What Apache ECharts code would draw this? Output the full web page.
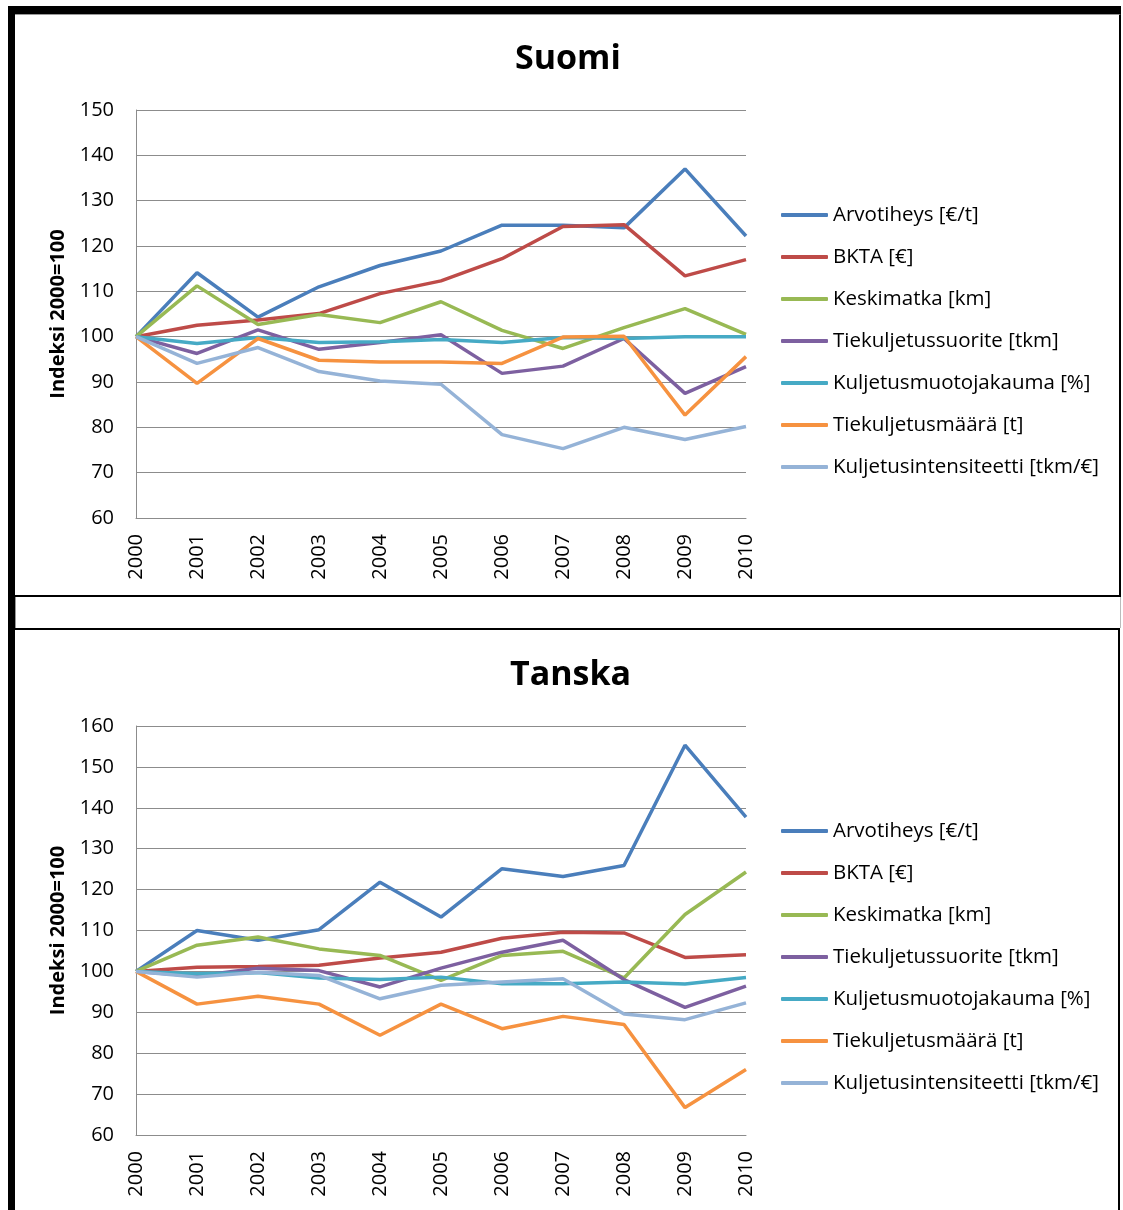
<!DOCTYPE html>
<html>
<head>
<meta charset="utf-8">
<script src="https://cdn.jsdelivr.net/npm/echarts@6/dist/echarts.min.js"></script>
<style>
  html, body { margin: 0; padding: 0; background: #fff; }
  body { width: 1123px; height: 1210px; position: relative; overflow: hidden; }
  .bar { position: absolute; background: #000; }
  .frame { position: absolute; box-sizing: border-box; border: 0 solid #000; }
  .chart { position: absolute; left: 0; width: 1123px; }
</style>
</head>
<body>
<!-- document frames -->
<div class="bar" style="left:8px;top:6px;width:1113px;height:8px"></div>
<div class="bar" style="left:8px;top:6px;width:7px;height:1204px"></div>
<div class="frame" style="left:15px;top:14px;width:1106px;height:583px;border-right-width:2px;border-bottom-width:2px;border-top:1px solid #999"></div>
<div class="frame" style="left:15px;top:597px;width:1106px;height:31px;border-left:1px solid #999;border-right:1px solid #bbb"></div>
<div class="frame" style="left:15px;top:628px;width:1105px;height:600px;border-top-width:2px;border-right-width:2px"></div>

<div id="chartSuomi" class="chart" style="top:0;height:600px"></div>
<div id="chartTanska" class="chart" style="top:616px;height:594px"></div>

<script>
const years = ['2000', '2001', '2002', '2003', '2004', '2005', '2006', '2007', '2008', '2009', '2010']
const seriesNames = [
  'Arvotiheys [€/t]',
  'BKTA [€]',
  'Keskimatka [km]',
  'Tiekuljetussuorite [tkm]',
  'Kuljetusmuotojakauma [%]',
  'Tiekuljetusmäärä [t]',
  'Kuljetusintensiteetti [tkm/€]'
]
const colors = ['#4A7EBB', '#BE4B48', '#98B954', '#7D60A0', '#46AAC5', '#F69240', '#95B3D7']

// Suomi
const fiArvotiheys = [100, 114.1, 104.3, 111.0, 115.7, 118.9, 124.6, 124.6, 124.0, 137.0, 122.2]
const fiBkta = [100, 102.5, 103.7, 105.1, 109.5, 112.3, 117.2, 124.3, 124.7, 113.4, 117.0]
const fiKeskimatka = [100, 111.2, 102.7, 104.9, 103.1, 107.7, 101.4, 97.4, 102.0, 106.2, 100.5]
const fiSuorite = [100, 96.3, 101.5, 97.2, 98.7, 100.4, 91.9, 93.5, 99.6, 87.5, 93.4]
const fiJakauma = [100, 98.5, 99.8, 98.7, 98.9, 99.4, 98.7, 99.8, 99.6, 100, 100]
const fiMaara = [100, 89.7, 99.6, 94.8, 94.4, 94.4, 94.1, 99.9, 100.1, 82.7, 95.6]
const fiIntensiteetti = [100, 94.1, 97.6, 92.3, 90.2, 89.5, 78.4, 75.3, 80.0, 77.3, 80.2]

// Tanska
const dkArvotiheys = [100, 110.0, 107.6, 110.2, 121.8, 113.3, 125.1, 123.2, 125.9, 155.3, 137.7]
const dkBkta = [100, 101.0, 101.2, 101.5, 103.3, 104.7, 108.1, 109.6, 109.4, 103.4, 104.1]
const dkKeskimatka = [100, 106.4, 108.4, 105.5, 103.9, 97.8, 103.9, 104.9, 98.4, 113.9, 124.3]
const dkSuorite = [100, 98.9, 100.8, 100.2, 96.2, 100.8, 104.7, 107.6, 98.0, 91.2, 96.4]
const dkJakauma = [100, 99.4, 99.7, 98.4, 98.0, 98.6, 97.0, 97.0, 97.4, 96.9, 98.5]
const dkMaara = [100, 92.0, 93.9, 92.0, 84.4, 92.0, 86.0, 89.0, 87.0, 66.7, 76.0]
const dkIntensiteetti = [100, 98.6, 99.8, 99.0, 93.3, 96.6, 97.4, 98.2, 89.6, 88.2, 92.3]

const FONT = '"Open Sans", "Noto Sans", sans-serif'
const GRID_GREY = '#8c8c8c'

function renderChart (el, title, titleLeft, rows, yMax, plotHeight) {
  const chart = echarts.init(el, null, { renderer: 'canvas' })
  const option = {
    animation: false,
    textStyle: { fontFamily: FONT },
    title: {
      text: title,
      left: titleLeft,
      top: 42,
      padding: 0,
      textStyle: { fontFamily: FONT, fontSize: 34, fontWeight: 'bold', color: '#000' }
    },
    legend: {
      orient: 'vertical',
      left: 781,
      top: 203,
      padding: 0,
      itemGap: 18,
      itemWidth: 47,
      itemHeight: 4,
      icon: 'roundRect',
      data: seriesNames,
      textStyle: { fontFamily: FONT, fontSize: 20.5, color: '#000', lineHeight: 24 }
    },
    grid: { left: 136, top: 110, width: 610, height: plotHeight },
    xAxis: {
      type: 'category',
      data: years,
      boundaryGap: false,
      axisLine: { lineStyle: { color: GRID_GREY, width: 1 } },
      axisTick: { show: false },
      axisLabel: { rotate: 90, margin: 16, color: '#000', fontFamily: FONT, fontSize: 20 },
      splitLine: { show: false }
    },
    yAxis: {
      type: 'value',
      min: 60,
      max: yMax,
      interval: 10,
      name: 'Indeksi 2000=100',
      nameLocation: 'middle',
      nameGap: 68,
      nameTextStyle: { fontFamily: FONT, fontSize: 20, fontWeight: 'bold', color: '#000' },
      axisLine: { show: true, lineStyle: { color: GRID_GREY, width: 1 } },
      axisTick: { show: false },
      axisLabel: { margin: 22, color: '#000', fontFamily: FONT, fontSize: 20 },
      splitLine: { lineStyle: { color: GRID_GREY, width: 1 } }
    },
    series: rows.map((data, i) => ({
      type: 'line',
      name: seriesNames[i],
      data,
      showSymbol: false,
      smooth: false,
      color: colors[i],
      lineStyle: { color: colors[i], width: 3.5 }
    }))
  }
  chart.setOption(option)
  return chart
}

renderChart(document.getElementById('chartSuomi'), 'Suomi', 515,
  [fiArvotiheys, fiBkta, fiKeskimatka, fiSuorite, fiJakauma, fiMaara, fiIntensiteetti], 150, 408)
renderChart(document.getElementById('chartTanska'), 'Tanska', 510,
  [dkArvotiheys, dkBkta, dkKeskimatka, dkSuorite, dkJakauma, dkMaara, dkIntensiteetti], 160, 409)
</script>
</body>
</html>
